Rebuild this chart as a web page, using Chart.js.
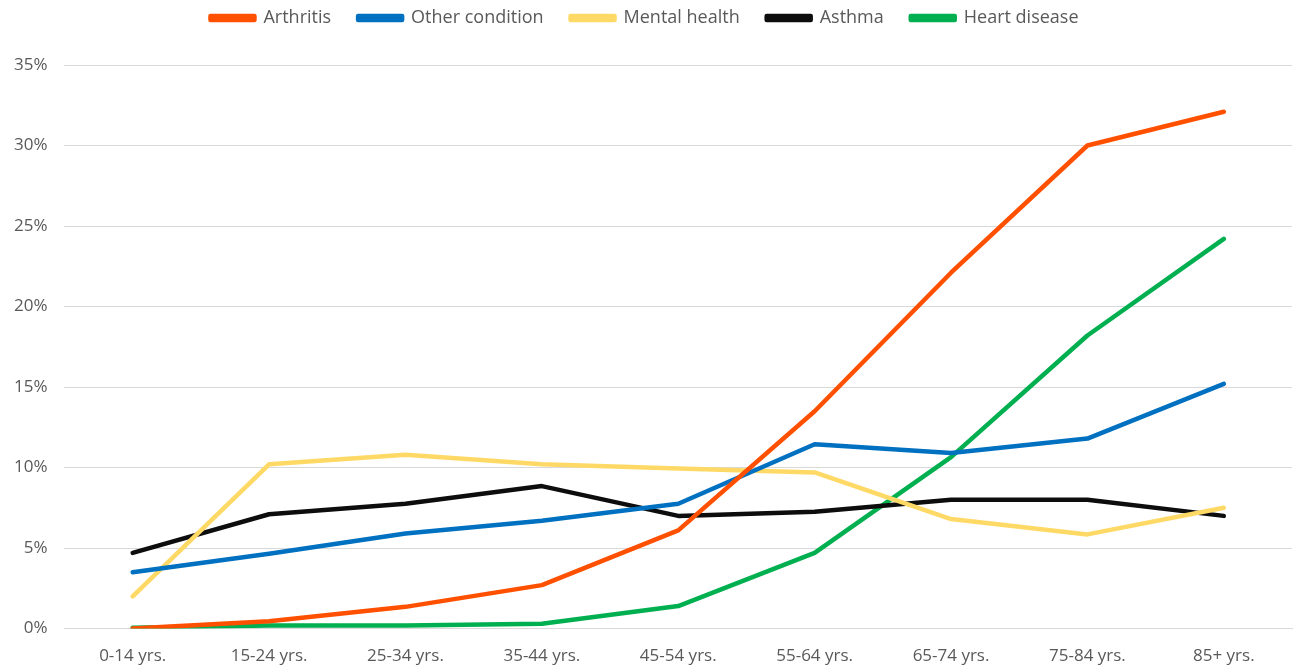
<!DOCTYPE html>
<html>
<head>
<meta charset="UTF-8">
<script src="https://cdn.jsdelivr.net/npm/chart.js@4.4.4/dist/chart.umd.min.js"></script>
<style>
  html, body { margin: 0; padding: 0; background: #fff; }
  .wrap { position: relative; width: 1298px; height: 668px; }
</style>
</head>
<body>
<div class="wrap"><canvas id="chart"></canvas></div>
<script>
const ageGroups = ['0-14 yrs.', '15-24 yrs.', '25-34 yrs.', '35-44 yrs.', '45-54 yrs.', '55-64 yrs.', '65-74 yrs.', '75-84 yrs.', '85+ yrs.']
const arthritis = [0.0, 0.45, 1.35, 2.7, 6.1, 13.5, 22.1, 30.0, 32.1]
const otherCondition = [3.5, 4.65, 5.9, 6.7, 7.75, 11.45, 10.9, 11.8, 15.2]
const mentalHealth = [2.0, 10.2, 10.8, 10.2, 9.95, 9.7, 6.8, 5.85, 7.5]
const asthma = [4.7, 7.1, 7.75, 8.85, 7.0, 7.25, 8.0, 8.0, 7.0]
const heartDisease = [0.05, 0.2, 0.2, 0.3, 1.4, 4.7, 10.65, 18.2, 24.2]

const mk = (label, data, color) => ({
  label, data,
  borderColor: color, backgroundColor: color,
  borderWidth: 4.5, pointRadius: 0, tension: 0,
  borderCapStyle: 'round', borderJoinStyle: 'round',
})

Chart.defaults.font.family = "'Open Sans', 'Noto Sans', sans-serif"
Chart.defaults.color = '#595959'

// push the plot area down below the legend
const legendGap = {
  id: 'legendGap',
  beforeInit(chart) {
    const fit = chart.legend.fit
    chart.legend.fit = function () {
      fit.bind(chart.legend)()
      this.height += 28
    }
  },
}

new Chart(document.getElementById('chart'), {
  type: 'line',
  data: {
    labels: ageGroups,
    datasets: [
      mk('Arthritis', arthritis, '#FF5000'),
      mk('Other condition', otherCondition, '#0070C0'),
      mk('Mental health', mentalHealth, '#FFD966'),
      mk('Asthma', asthma, '#0D0D0D'),
      mk('Heart disease', heartDisease, '#00B050'),
    ],
  },
  options: {
    responsive: true,
    maintainAspectRatio: false,
    animation: false,
    layout: { padding: { left: -3, right: 6, top: -18, bottom: -15 } },
    plugins: {
      legend: {
        position: 'top',
        labels: { boxWidth: 44, boxHeight: 4, padding: 27, color: '#595959', font: { size: 18 } },
      },
      tooltip: { enabled: false },
    },
    scales: {
      x: {
        offset: true,
        grid: { display: false, drawTicks: false },
        border: { color: '#d9d9d9', width: 1 },
        ticks: { padding: 17, font: { size: 17 }, color: '#595959', maxRotation: 0 },
      },
      y: {
        min: 0, max: 35,
        grid: { color: '#d9d9d9', lineWidth: 1, drawTicks: false },
        border: { display: false },
        ticks: { stepSize: 5, padding: 17, font: { size: 17 }, color: '#595959', callback: (v) => v + '%' },
      },
    },
  },
  plugins: [legendGap],
})
</script>
</body>
</html>
